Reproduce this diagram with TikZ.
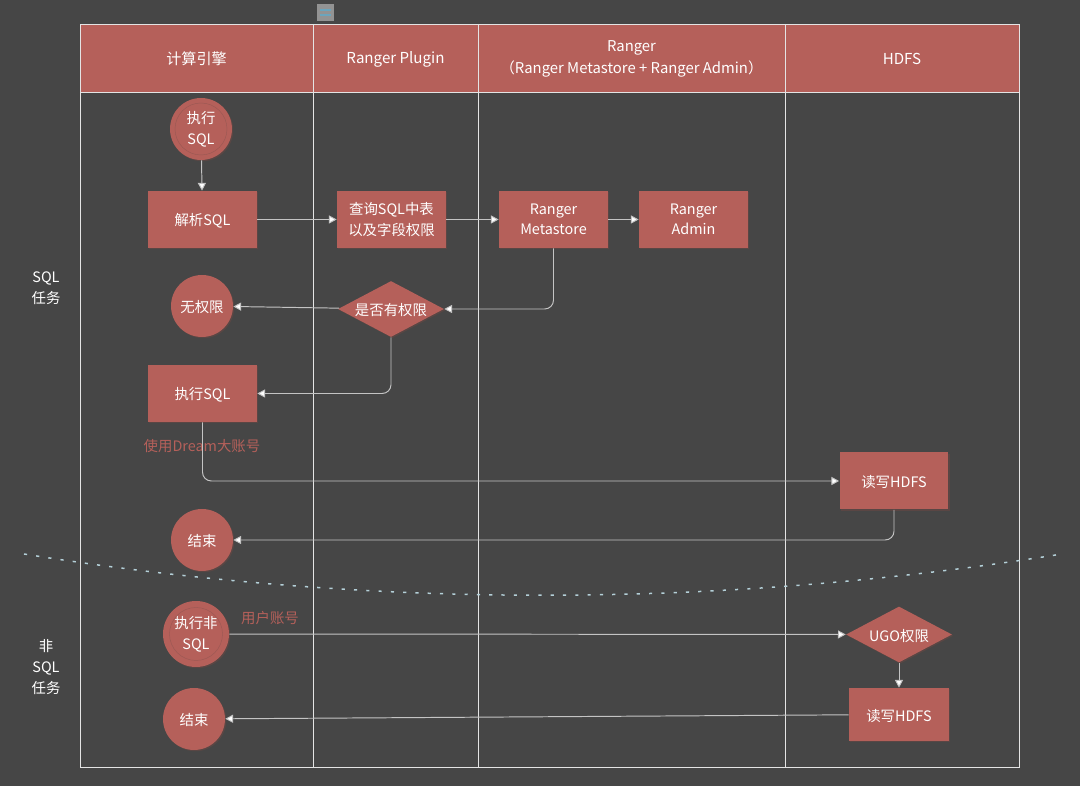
\documentclass[tikz,border=0pt]{standalone}
\usepackage{fontspec}
\setmainfont{Noto Sans CJK SC}
\usetikzlibrary{arrows.meta,shapes.geometric,shadows}
\definecolor{bgdark}{HTML}{464646}
\definecolor{redfill}{HTML}{B5605A}
\definecolor{redshadow}{HTML}{5A4644}
\definecolor{redtext}{HTML}{B5605A}
\definecolor{laneline}{HTML}{E4E4E4}
\definecolor{flowline}{HTML}{C4C4C4}
\definecolor{cutline}{HTML}{B4D0D8}
\tikzset{
  headtext/.style={text=white, inner sep=0pt, font=\fontsize{8.6}{12.5}\selectfont, align=center},
  shapetext/.style={fill=redfill, text=white, inner sep=0pt, font=\fontsize{8.2}{11.6}\selectfont, align=center,
    execute at begin node={\rule{0pt}{8.4pt}},
    copy shadow={shadow xshift=.7pt, shadow yshift=-.7pt, fill=redshadow, draw=none}},
  stepbox/.style={shapetext, rectangle, minimum width=2.18cm, minimum height=1.14cm},
  stepcircle/.style={shapetext, circle, minimum size=1.24cm, font=\fontsize{8.2}{12.2}\selectfont},
  stepdiamond/.style={shapetext, diamond, aspect=1.88, minimum width=2.12cm, minimum height=1.12cm},
  sidetext/.style={text=white, inner sep=0pt, font=\fontsize{8.2}{11.9}\selectfont, align=center},
  redlabel/.style={text=redtext, inner sep=0pt, font=\fontsize{8.2}{11.6}\selectfont},
  flow/.style={flowline, line width=.55pt, rounded corners=5pt, -{Triangle[length=4.4pt,width=4.6pt,fill=white]}},
  lane/.style={laneline, line width=.45pt},
  ring/.style={draw=redshadow!30!redfill, line width=.25pt}
}
\begin{document}
\begin{tikzpicture}[x=0.02cm, y=-0.02cm]
    \fill[bgdark] (0,0) rectangle (1080,786);
    \useasboundingbox (0,0) rectangle (1080,786);
    % header
    \fill[redfill] (80,24) rectangle (1019,92);
    \node[headtext] (headengine) at (196.5,59) {计算引擎};
    \node[headtext] (headplugin) at (395.5,59) {Ranger Plugin};
    \node[headtext, font=\fontsize{8.45}{12.5}\selectfont] (headranger) at (631.5,58.5) {Ranger\\（Ranger Metastore + Ranger Admin）};
    \node[headtext] (headhdfs) at (902,59) {HDFS};
    % lanes
    \draw[lane] (80,24) rectangle (1019,767);
    \draw[lane] (80,92) -- (1019,92);
    \draw[lane] (313,24) -- (313,767);
    \draw[lane] (478,24) -- (478,767);
    \draw[lane] (785,24) -- (785,767);
    % small icon
    \fill[gray!85!white] (317,4) rectangle (334,21);
    \fill[cyan!45!gray] (320,9) rectangle (331,11.5);
    \fill[cyan!45!gray] (320,14) rectangle (331,16.5);
    % side labels
    \node[sidetext] (sqltask) at (46,288) {SQL\\任务};
    \node[sidetext] (nonsqltask) at (46,667) {非\\SQL\\任务};
    % sql flow
    \node[stepcircle] (start) at (201,129) {执行\\SQL};
    \draw[ring] (start) circle (26);
    \node[stepbox] (parse) at (202.5,219.5) {解析SQL};
    \node[stepbox] (query) at (391.5,219.5) {查询SQL中表\\以及字段权限};
    \node[stepbox] (metastore) at (553.5,219.5) {Ranger\\Metastore};
    \node[stepbox] (admin) at (693.5,219.5) {Ranger\\Admin};
    \node[stepdiamond] (check) at (391,309) {是否有权限};
    \node[stepcircle] (denied) at (202,306) {无权限};
    \node[stepbox] (execsql) at (202.5,393.5) {执行SQL};
    \node[redlabel] (dreamuser) at (202,446) {使用Dream大账号};
    \node[stepbox] (readhdfs) at (894,481) {读写HDFS};
    \node[stepcircle] (sqlend) at (202,540) {结束};
    % dotted divider
    \draw[cutline, line width=.85pt, dash pattern=on 1.8pt off 5.2pt] (24,554) .. controls (368,609) and (718,609) .. (1062,554);
    % non sql flow
    \node[stepcircle, minimum size=1.32cm] (execnonsql) at (196,634) {执行非\\SQL};
    \draw[ring] (execnonsql) circle (26.5);
    \node[redlabel] (useraccount) at (270,618.5) {用户账号};
    \node[stepdiamond] (ugo) at (899,634.5) {UGO权限};
    \node[stepbox, minimum width=2.0cm, minimum height=1.06cm] (readhdfstwo) at (899,714.5) {读写HDFS};
    \node[stepcircle] (nonsqlend) at (194,719) {结束};
    % connectors
    \draw[flow] (start) -- (parse);
    \draw[flow] (parse) -- (query);
    \draw[flow] (query) -- (metastore);
    \draw[flow] (metastore) -- (admin);
    \draw[flow] (metastore) |- (check);
    \draw[flow] (check) -- (denied);
    \draw[flow] (check) |- (execsql);
    \draw[flow] (execsql) |- (readhdfs);
    \draw[flow] (readhdfs) |- (sqlend);
    \draw[flow] (execnonsql) -- (ugo);
    \draw[flow] (ugo) -- (readhdfstwo);
    \draw[flow] (readhdfstwo) -- (nonsqlend);
\end{tikzpicture}
\end{document}
